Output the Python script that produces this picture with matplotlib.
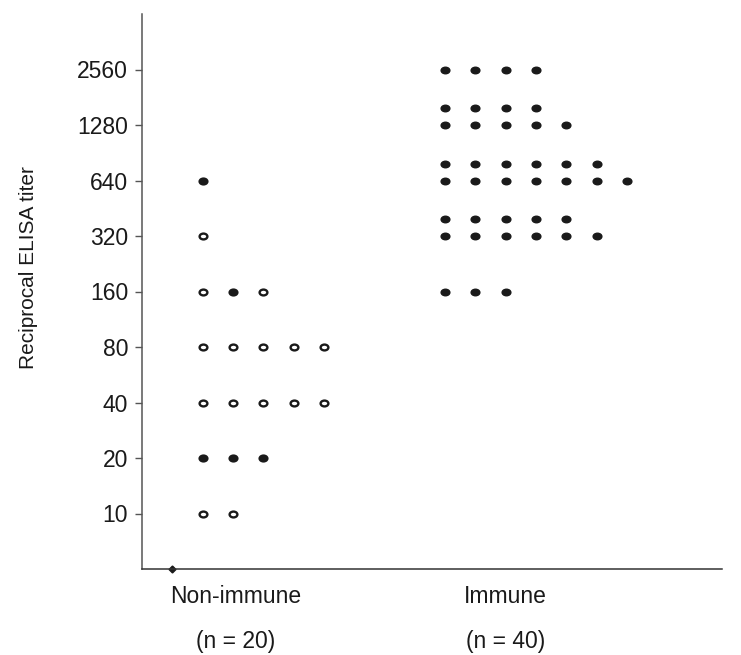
import matplotlib
matplotlib.use('Agg')
import matplotlib.pyplot as plt
import matplotlib.transforms as mtrans
from matplotlib.path import Path

# titer rows for each group
nonimmune_titers = [640, 320, 160, 80, 40, 20, 10]
nonimmune_counts = [1, 1, 3, 5, 5, 3, 2]
# 'f' = filled dot, 'o' = open dot, one letter per animal
nonimmune_fill = ['f', 'o', 'ofo', 'ooooo', 'ooooo', 'fff', 'oo']

immune_titers = [2560, 1280, 640, 320, 160]
immune_counts = [4, 9, 13, 11, 3]

group_names = ['Non-immune', 'Immune']
group_n = ['(n = 20)', '(n = 40)']

y_ticks = [10, 20, 40, 80, 160, 320, 640, 1280, 2560]

plt.rcParams['font.family'] = ['Liberation Sans', 'DejaVu Sans']
ink = '#1a1a1a'

# slightly flattened dot
dot = Path.unit_circle().transformed(mtrans.Affine2D().scale(1, 0.75))

fig = plt.figure(figsize=(7.41, 6.55), dpi=100)
ax = fig.add_axes([142 / 741, 1 - 569 / 655, 580 / 741, 555 / 655])

ax.set_yscale('log', base=2)
ax.set_ylim(5, 5120)
ax.set_xlim(0, 19.14)

# non-immune group, one dot per animal starting at x = 2
for titer, count, fill in zip(nonimmune_titers, nonimmune_counts, nonimmune_fill):
    for i in range(count):
        face = ink if fill[i] == 'f' else 'white'
        ax.plot(2 + i, titer, marker=dot, ms=5.6, mfc=face, mec=ink, mew=1.7, ls='none')

# immune group, big rows are split in two with the overflow a little higher
for titer, count in zip(immune_titers, immune_counts):
    if count > 7:
        low = (count + 1) // 2
        rows = [(titer, low), (titer * 2 ** 0.3, count - low)]
    else:
        rows = [(titer, count)]
    for y, n in rows:
        xs = [10 + i for i in range(n)]
        ax.plot(xs, [y] * n, marker=dot, ms=6.3, mfc=ink, mec=ink, ls='none')

# small mark at the origin
ax.plot(1, 5, marker='D', ms=3.5, color=ink, clip_on=False)

ax.set_yticks(y_ticks)
ax.set_yticklabels([str(t) for t in y_ticks])
ax.yaxis.set_minor_locator(matplotlib.ticker.NullLocator())
ax.tick_params(axis='y', length=5, width=1, color='#555555', pad=5,
               labelsize=16.5, labelcolor=ink)
ax.set_xticks([])

for side in ['top', 'right']:
    ax.spines[side].set_visible(False)
ax.spines['left'].set_color('#555555')
ax.spines['bottom'].set_color('#333333')
ax.spines['left'].set_linewidth(1.1)
ax.spines['bottom'].set_linewidth(1.1)

trans = ax.get_xaxis_transform()
for x, name, n in zip([3.1, 12.0], group_names, group_n):
    ax.text(x, -0.049, name, transform=trans, ha='center', va='center',
            fontsize=16.5, color=ink)
    ax.text(x, -0.13, n, transform=trans, ha='center', va='center',
            fontsize=16.5, color=ink)

fig.text(28 / 741, 1 - 268 / 655, 'Reciprocal ELISA titer', rotation=90,
         ha='center', va='center', fontsize=15, color=ink)

fig.savefig('out.png', dpi=100)
